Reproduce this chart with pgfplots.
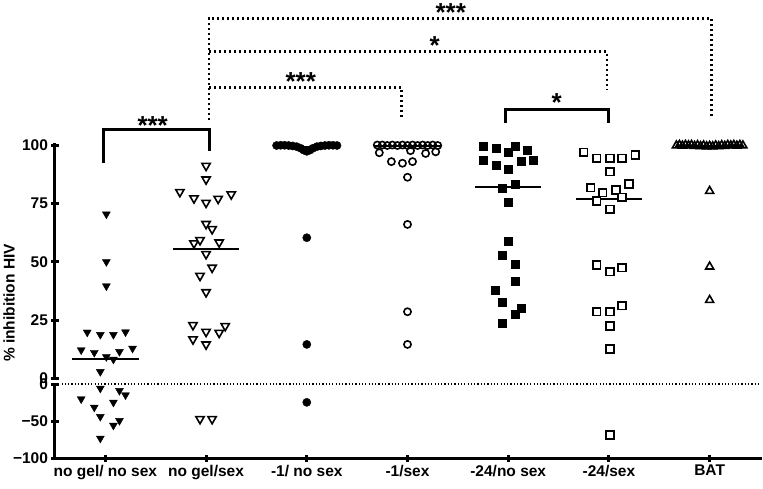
\documentclass[border=0pt]{standalone}
\usepackage{fontspec}
\setmainfont{Liberation Sans}
\usepackage{pgfplots}
\pgfplotsset{compat=1.18}

\pgfplotsset{
  base/.style={scale only axis, width=705pt, xmin=-0.5, xmax=6.5, clip=false,
    major tick length=7pt, tick align=outside,
    tick label style={font=\fontsize{15.5}{18}\selectfont\bfseries},
  },
  thick axis/.style={
    x axis line style={-, line width=3pt},
    y axis line style={-, line width=3pt},
    major tick style={line width=3pt, black},
  },
  g0/.style={only marks, mark=triangle*, mark size=4.6pt, mark options={rotate=180, fill=black, draw=black}},
  g1/.style={only marks, mark=triangle*, mark size=4.8pt, mark options={rotate=180, line width=1.6pt, draw=black, fill=white}},
  g2/.style={only marks, mark=*, mark size=4.1pt, mark options={fill=black, draw=black}},
  g3/.style={only marks, mark=o, mark size=3.6pt, mark options={line width=1.6pt, draw=black}},
  g4/.style={only marks, mark=square*, mark size=4pt, mark options={fill=black, draw=black}},
  g5/.style={only marks, mark=square*, mark size=3.8pt, mark options={line width=1.6pt, draw=black, fill=white}},
  g6/.style={only marks, mark=triangle, mark size=4.6pt, mark options={line width=1.6pt, draw=black}},
  med/.style={black, line width=2pt, no marks},
}
\tikzset{
  dotline/.style={line width=2.5pt, dash pattern=on 2pt off 3pt},
  brk/.style={line width=3pt},
  stars/.style={font=\fontsize{26}{26}\selectfont\bfseries, inner sep=0pt, yshift=-5.5pt},
}

\begin{document}
\begin{tikzpicture}
\useasboundingbox (-55pt,-30pt) rectangle (708pt,458pt);

% lower part of the broken axis: -100 .. 0
\begin{axis}[base, at={(0pt,0pt)}, anchor=south west, height=74pt,
  ymin=-100, ymax=0,
  axis x line=bottom, axis y line=left, thick axis,
  xtick={0,1,2,3,4,5,6},
  xticklabels={no gel/ no sex, no gel/sex, -1/ no sex, -1/sex, -24/no sex, -24/sex, BAT},
  ytick={-100,-50,0}, yticklabels={−100,−50,0}]
\addplot[black, line width=1.2pt, dash pattern=on 1.2pt off 2.1pt] coordinates {(-0.5,0) (6.5,0)};
\draw[line width=3pt, line cap=rect] (axis cs:-0.5,0) -- (axis cs:-0.5,-100) -- (axis cs:6.5,-100);
\addplot[g0] coordinates {(-0.05,-5.9) (0.14,-9.0) (0.20,-14.9) (-0.24,-20.3) (0.08,-24.8)
  (-0.11,-31.5) (-0.05,-44.1) (0.14,-49.5) (0.08,-55.9) (-0.05,-73.4)};
\addplot[g1] coordinates {(0.94,-47.3) (1.06,-47.3)};
\addplot[g2] coordinates {(2,-24.8)};
\addplot[g5] coordinates {(5.01,-68.9)};
\end{axis}

% upper part: 0 .. 100
\begin{axis}[base, at={(0pt,79.5pt)}, anchor=south west, height=235.8pt,
  ymin=0, ymax=101,
  axis x line=none, axis y line=left, thick axis,
  ytick={0,25,50,75,100}, yticklabels={0,25,50,75,100}]
\draw[line width=3pt] (axis cs:-0.5,0) -- (axis cs:-0.5,101);
% no gel / no sex
\addplot[g0] coordinates {(0.01,70.4) (0.01,50.0) (0.01,39.6) (-0.18,19.8) (-0.05,18.8)
  (0.08,18.8) (0.20,19.9) (-0.24,12.2) (-0.11,11.1) (0.01,9.3) (0.08,8.2) (0.14,11.5)
  (0.27,12.9) (-0.05,2.9)};
% no gel / sex
\addplot[g1] coordinates {(1.00,91.1) (1.00,85.3) (0.74,79.9) (0.88,77.2) (1.00,75.3)
  (1.12,77.0) (1.25,78.9) (1.00,66.2) (1.06,64.0) (0.88,57.9) (0.94,59.3) (1.13,58.3)
  (1.00,53.3) (1.06,47.5) (0.94,44.0) (1.00,37.0) (0.87,22.9) (1.19,22.5) (1.00,20.0)
  (1.13,19.6) (0.87,16.8) (1.00,14.6)};
% -1 / no sex
\addplot[g2] coordinates {(1.70,99.8) (1.74,99.9) (1.78,99.9) (1.82,99.8) (1.86,99.6)
  (1.90,99.3) (1.94,98.6) (1.97,97.8) (2.00,97.3) (2.03,97.8) (2.06,98.6) (2.10,99.3)
  (2.14,99.6) (2.18,99.8) (2.22,99.9) (2.26,99.9) (2.30,99.8) (2.00,60.3) (2.00,14.6)};
% -1 / sex
\addplot[g3] coordinates {(2.70,100) (2.75,100) (2.80,99.8) (2.85,100) (2.90,99.8)
  (2.95,100) (3.00,99.8) (3.05,100) (3.10,99.8) (3.15,100) (3.20,99.8) (3.25,100) (3.30,99.8)
  (2.72,96.7) (3.03,97.6) (3.18,96.4) (3.28,97.1)
  (2.84,92.9) (2.95,92.2) (3.05,92.9) (3.00,86.2) (3.00,66.0) (3.00,28.6) (3.00,14.6)};
% -24 / no sex
\addplot[g4] coordinates {(3.75,99.7) (3.88,98.6) (4.00,97.1) (4.07,99.3) (4.19,97.6)
  (3.75,93.6) (3.88,91.4) (4.00,89.7) (4.13,93.1) (4.25,93.6) (3.94,81.4) (4.07,83.2)
  (4.00,75.5) (4.00,59.0) (3.94,52.6) (4.07,48.9) (4.07,41.8) (3.87,37.9) (3.94,32.6)
  (4.13,30.3) (4.07,27.5) (3.94,23.9)};
% -24 / sex
\addplot[g5] coordinates {(4.75,96.9) (4.88,94.3) (5.01,94.3) (5.13,94.3) (5.26,95.7)
  (5.01,88.6) (4.82,81.7) (4.94,79.6) (5.07,80.7) (5.20,83.3) (4.88,76.0) (5.13,77.6)
  (5.01,72.5) (4.88,48.6) (5.01,45.7) (5.13,47.5) (4.88,28.6) (5.01,28.6) (5.13,31.2)
  (5.01,22.5) (5.01,12.6)};
% BAT
\addplot[g6] coordinates {(5.67,99.8) (5.70,100) (5.73,99.7) (5.76,100) (5.79,99.8)
  (5.82,100) (5.85,99.6) (5.88,99.9) (5.91,99.5) (5.94,99.8) (5.97,99.4) (6.00,99.6)
  (6.03,99.4) (6.06,99.8) (6.09,99.5) (6.12,99.9) (6.15,99.6) (6.18,100) (6.21,99.8)
  (6.24,100) (6.27,99.7) (6.30,100) (6.33,99.8) (6.00,80.3) (6.00,47.9) (6.00,33.6)};
% medians
\addplot[med] coordinates {(-0.33,8.2) (0.33,8.2)};
\addplot[med] coordinates {(0.67,55.5) (1.33,55.5)};
\addplot[med] coordinates {(1.67,99.2) (2.33,99.2)};
\addplot[med] coordinates {(2.67,99.5) (3.33,99.5)};
\addplot[med] coordinates {(3.67,82.1) (4.33,82.1)};
\addplot[med] coordinates {(4.67,76.7) (5.33,76.7)};
\addplot[med] coordinates {(5.67,99.6) (6.33,99.6)};
% significance brackets
\draw[dotline] (axis cs:1.03,110.7) -- (axis cs:1.03,154.3) -- (axis cs:6.02,154.3) -- (axis cs:6.02,111.4);
\draw[dotline] (axis cs:1.03,140) -- (axis cs:4.98,140) -- (axis cs:4.98,123.6);
\draw[dotline] (axis cs:1.03,124.7) -- (axis cs:2.94,124.7) -- (axis cs:2.94,112.1);
\draw[brk] (axis cs:-0.02,92.2) -- (axis cs:-0.02,106.7) -- (axis cs:1.03,106.7) -- (axis cs:1.03,97.4);
\draw[brk] (axis cs:3.97,109.3) -- (axis cs:3.97,115.3) -- (axis cs:5.0,115.3) -- (axis cs:5.0,109.3);
\node[stars] at (axis cs:3.43,159.2) {***};
\node[stars] at (axis cs:3.27,145) {*};
\node[stars] at (axis cs:1.94,129.5) {***};
\node[stars] at (axis cs:4.48,120.7) {*};
\node[stars] at (axis cs:0.47,110.7) {***};
\end{axis}

\node[rotate=90, anchor=south, inner sep=0pt, font=\fontsize{15.5}{18}\selectfont\bfseries]
  at (-40pt,155pt) {\% inhibition HIV};
\end{tikzpicture}
\end{document}
